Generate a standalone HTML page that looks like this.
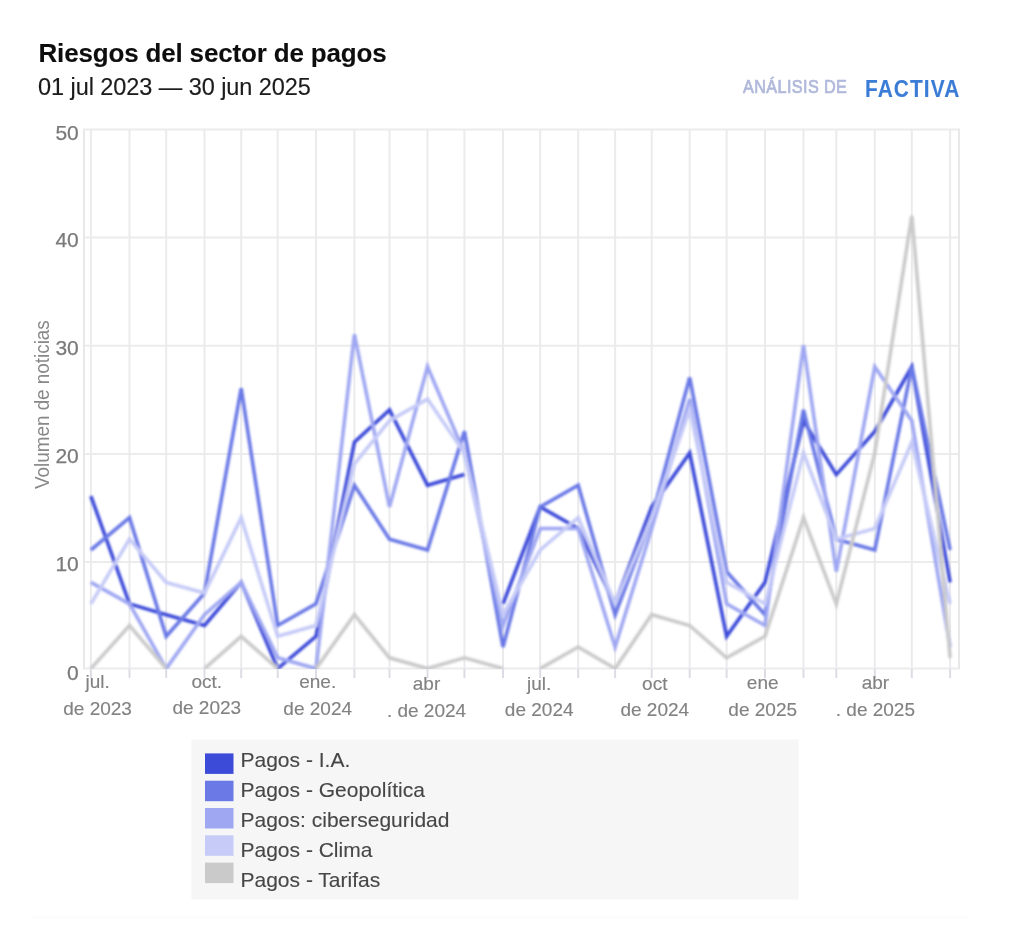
<!DOCTYPE html>
<html><head><meta charset="utf-8"><style>
html,body{margin:0;padding:0;background:#fff;width:1024px;height:925px;overflow:hidden}
#w{position:absolute;left:0;top:0;width:1024px;height:925px}
svg{position:absolute;left:0;top:0;font-family:"Liberation Sans", sans-serif}
</style></head><body><div id="w">
<svg width="1024" height="925" viewBox="0 0 1024 925">
<filter id="ga" filterUnits="userSpaceOnUse" x="0" y="0" width="1024" height="925"><feGaussianBlur stdDeviation="0.5"/></filter>
<rect width="1024" height="925" fill="#fff"/>
<g filter="url(#ga)">
<rect x="32" y="916" width="937" height="3" fill="#fdfdfd"/>
<text x="38.5" y="61.6" font-size="26" font-weight="bold" fill="#111" stroke="#111" stroke-width="0.1" letter-spacing="-0.17">Riesgos del sector de pagos</text>
<text x="38" y="95" font-size="23.5" fill="#1a1a1a" stroke="#1a1a1a" stroke-width="0.15" letter-spacing="-0.06">01 jul 2023 — 30 jun 2025</text>
<text transform="translate(743,93) scale(0.9,1)" font-size="18" fill="#b1b9db" stroke="#b1b9db" stroke-width="0.75" letter-spacing="0.45">ANÁLISIS DE</text>
<text transform="translate(865,96.8) scale(0.89,1)" font-size="23.5" font-weight="bold" fill="#3a7dd6" stroke="#3a7dd6" stroke-width="0.1" letter-spacing="1.2">FACTIVA</text>
<rect x="191.5" y="739.5" width="607" height="160" fill="#f6f6f6"/>
<rect x="205" y="753.4" width="28.5" height="20.5" fill="#3d4bd9"/>
<text x="240.5" y="766.9" font-size="21" fill="#474747" stroke="#474747" stroke-width="0.12">Pagos - I.A.</text>
<rect x="205" y="780.7" width="28.5" height="20.5" fill="#6b79e6"/>
<text x="240.5" y="796.9" font-size="21" fill="#474747" stroke="#474747" stroke-width="0.12">Pagos - Geopolítica</text>
<rect x="205" y="808.0" width="28.5" height="20.5" fill="#9fa7f2"/>
<text x="240.5" y="826.9" font-size="21" fill="#474747" stroke="#474747" stroke-width="0.12">Pagos: ciberseguridad</text>
<rect x="205" y="835.3" width="28.5" height="20.5" fill="#c6cbf7"/>
<text x="240.5" y="856.9" font-size="21" fill="#474747" stroke="#474747" stroke-width="0.12">Pagos - Clima</text>
<rect x="205" y="862.6" width="28.5" height="20.5" fill="#cacaca"/>
<text x="240.5" y="886.9" font-size="21" fill="#474747" stroke="#474747" stroke-width="0.12">Pagos - Tarifas</text>
<line x1="83" y1="668.5" x2="960" y2="668.5" stroke="#ececec" stroke-width="2"/>
<line x1="83" y1="562.1" x2="960" y2="562.1" stroke="#ececec" stroke-width="2"/>
<line x1="83" y1="454.0" x2="960" y2="454.0" stroke="#ececec" stroke-width="2"/>
<line x1="83" y1="345.8" x2="960" y2="345.8" stroke="#ececec" stroke-width="2"/>
<line x1="83" y1="237.6" x2="960" y2="237.6" stroke="#ececec" stroke-width="2"/>
<line x1="83" y1="129.6" x2="960" y2="129.6" stroke="#ececec" stroke-width="2"/>
<line x1="90.9" y1="129.6" x2="90.9" y2="669" stroke="#ebebee" stroke-width="2"/>
<line x1="90.9" y1="669" x2="90.9" y2="678" stroke="#dcdce6" stroke-width="2"/>
<line x1="129.5" y1="129.6" x2="129.5" y2="669" stroke="#ebebee" stroke-width="2"/>
<line x1="129.5" y1="669" x2="129.5" y2="678" stroke="#dcdce6" stroke-width="2"/>
<line x1="166.2" y1="129.6" x2="166.2" y2="669" stroke="#ebebee" stroke-width="2"/>
<line x1="166.2" y1="669" x2="166.2" y2="678" stroke="#dcdce6" stroke-width="2"/>
<line x1="204.5" y1="129.6" x2="204.5" y2="669" stroke="#ebebee" stroke-width="2"/>
<line x1="204.5" y1="669" x2="204.5" y2="678" stroke="#dcdce6" stroke-width="2"/>
<line x1="241.2" y1="129.6" x2="241.2" y2="669" stroke="#ebebee" stroke-width="2"/>
<line x1="241.2" y1="669" x2="241.2" y2="678" stroke="#dcdce6" stroke-width="2"/>
<line x1="277.7" y1="129.6" x2="277.7" y2="669" stroke="#ebebee" stroke-width="2"/>
<line x1="277.7" y1="669" x2="277.7" y2="678" stroke="#dcdce6" stroke-width="2"/>
<line x1="316.0" y1="129.6" x2="316.0" y2="669" stroke="#ebebee" stroke-width="2"/>
<line x1="316.0" y1="669" x2="316.0" y2="678" stroke="#dcdce6" stroke-width="2"/>
<line x1="354.4" y1="129.6" x2="354.4" y2="669" stroke="#ebebee" stroke-width="2"/>
<line x1="354.4" y1="669" x2="354.4" y2="678" stroke="#dcdce6" stroke-width="2"/>
<line x1="389.5" y1="129.6" x2="389.5" y2="669" stroke="#ebebee" stroke-width="2"/>
<line x1="389.5" y1="669" x2="389.5" y2="678" stroke="#dcdce6" stroke-width="2"/>
<line x1="427.5" y1="129.6" x2="427.5" y2="669" stroke="#ebebee" stroke-width="2"/>
<line x1="427.5" y1="669" x2="427.5" y2="678" stroke="#dcdce6" stroke-width="2"/>
<line x1="464.4" y1="129.6" x2="464.4" y2="669" stroke="#ebebee" stroke-width="2"/>
<line x1="464.4" y1="669" x2="464.4" y2="678" stroke="#dcdce6" stroke-width="2"/>
<line x1="503.0" y1="129.6" x2="503.0" y2="669" stroke="#ebebee" stroke-width="2"/>
<line x1="503.0" y1="669" x2="503.0" y2="678" stroke="#dcdce6" stroke-width="2"/>
<line x1="540.2" y1="129.6" x2="540.2" y2="669" stroke="#ebebee" stroke-width="2"/>
<line x1="540.2" y1="669" x2="540.2" y2="678" stroke="#dcdce6" stroke-width="2"/>
<line x1="578.2" y1="129.6" x2="578.2" y2="669" stroke="#ebebee" stroke-width="2"/>
<line x1="578.2" y1="669" x2="578.2" y2="678" stroke="#dcdce6" stroke-width="2"/>
<line x1="615.1" y1="129.6" x2="615.1" y2="669" stroke="#ebebee" stroke-width="2"/>
<line x1="615.1" y1="669" x2="615.1" y2="678" stroke="#dcdce6" stroke-width="2"/>
<line x1="651.7" y1="129.6" x2="651.7" y2="669" stroke="#ebebee" stroke-width="2"/>
<line x1="651.7" y1="669" x2="651.7" y2="678" stroke="#dcdce6" stroke-width="2"/>
<line x1="689.7" y1="129.6" x2="689.7" y2="669" stroke="#ebebee" stroke-width="2"/>
<line x1="689.7" y1="669" x2="689.7" y2="678" stroke="#dcdce6" stroke-width="2"/>
<line x1="726.6" y1="129.6" x2="726.6" y2="669" stroke="#ebebee" stroke-width="2"/>
<line x1="726.6" y1="669" x2="726.6" y2="678" stroke="#dcdce6" stroke-width="2"/>
<line x1="765.0" y1="129.6" x2="765.0" y2="669" stroke="#ebebee" stroke-width="2"/>
<line x1="765.0" y1="669" x2="765.0" y2="678" stroke="#dcdce6" stroke-width="2"/>
<line x1="803.5" y1="129.6" x2="803.5" y2="669" stroke="#ebebee" stroke-width="2"/>
<line x1="803.5" y1="669" x2="803.5" y2="678" stroke="#dcdce6" stroke-width="2"/>
<line x1="836.3" y1="129.6" x2="836.3" y2="669" stroke="#ebebee" stroke-width="2"/>
<line x1="836.3" y1="669" x2="836.3" y2="678" stroke="#dcdce6" stroke-width="2"/>
<line x1="874.8" y1="129.6" x2="874.8" y2="669" stroke="#ebebee" stroke-width="2"/>
<line x1="874.8" y1="669" x2="874.8" y2="678" stroke="#dcdce6" stroke-width="2"/>
<line x1="911.8" y1="129.6" x2="911.8" y2="669" stroke="#ebebee" stroke-width="2"/>
<line x1="911.8" y1="669" x2="911.8" y2="678" stroke="#dcdce6" stroke-width="2"/>
<line x1="950.1" y1="129.6" x2="950.1" y2="669" stroke="#ebebee" stroke-width="2"/>
<line x1="950.1" y1="669" x2="950.1" y2="678" stroke="#dcdce6" stroke-width="2"/>
<line x1="84" y1="129.6" x2="84" y2="668.6" stroke="#e8e8e8" stroke-width="2"/>
<line x1="959" y1="129.6" x2="959" y2="668.6" stroke="#e8e8e8" stroke-width="2"/>
<text x="78.8" y="680.1" text-anchor="end" font-size="21" fill="#7a7a7a" stroke="#7a7a7a" stroke-width="0.25">0</text>
<text x="78.8" y="570.8" text-anchor="end" font-size="21" fill="#7a7a7a" stroke="#7a7a7a" stroke-width="0.25">10</text>
<text x="78.8" y="463.0" text-anchor="end" font-size="21" fill="#7a7a7a" stroke="#7a7a7a" stroke-width="0.25">20</text>
<text x="78.8" y="355.2" text-anchor="end" font-size="21" fill="#7a7a7a" stroke="#7a7a7a" stroke-width="0.25">30</text>
<text x="78.8" y="247.4" text-anchor="end" font-size="21" fill="#7a7a7a" stroke="#7a7a7a" stroke-width="0.25">40</text>
<text x="78.8" y="139.6" text-anchor="end" font-size="21" fill="#7a7a7a" stroke="#7a7a7a" stroke-width="0.25">50</text>
<text transform="translate(48.8,404.6) rotate(-90) scale(0.915,1)" text-anchor="middle" font-size="20.6" fill="#888">Volumen de noticias</text>
<text x="97.6" y="688" text-anchor="middle" font-size="19" fill="#828282" stroke="#828282" stroke-width="0.15">jul.</text>
<text x="97.6" y="714.6" text-anchor="middle" font-size="19" fill="#828282" stroke="#828282" stroke-width="0.15">de 2023</text>
<text x="206.8" y="687.8" text-anchor="middle" font-size="19" fill="#828282" stroke="#828282" stroke-width="0.15">oct.</text>
<text x="206.8" y="714.2" text-anchor="middle" font-size="19" fill="#828282" stroke="#828282" stroke-width="0.15">de 2023</text>
<text x="317.7" y="688" text-anchor="middle" font-size="19" fill="#828282" stroke="#828282" stroke-width="0.15">ene.</text>
<text x="317.7" y="714.6" text-anchor="middle" font-size="19" fill="#828282" stroke="#828282" stroke-width="0.15">de 2024</text>
<text x="426.5" y="690" text-anchor="middle" font-size="19" fill="#828282" stroke="#828282" stroke-width="0.15">abr</text>
<text x="426.5" y="717" text-anchor="middle" font-size="19" fill="#828282" stroke="#828282" stroke-width="0.15">. de 2024</text>
<text x="539.2" y="689.5" text-anchor="middle" font-size="19" fill="#828282" stroke="#828282" stroke-width="0.15">jul.</text>
<text x="539.2" y="716" text-anchor="middle" font-size="19" fill="#828282" stroke="#828282" stroke-width="0.15">de 2024</text>
<text x="654.8" y="689.5" text-anchor="middle" font-size="19" fill="#828282" stroke="#828282" stroke-width="0.15">oct</text>
<text x="654.8" y="716" text-anchor="middle" font-size="19" fill="#828282" stroke="#828282" stroke-width="0.15">de 2024</text>
<text x="762.7" y="689.2" text-anchor="middle" font-size="19" fill="#828282" stroke="#828282" stroke-width="0.15">ene</text>
<text x="762.7" y="715.5" text-anchor="middle" font-size="19" fill="#828282" stroke="#828282" stroke-width="0.15">de 2025</text>
<text x="875.4" y="689.2" text-anchor="middle" font-size="19" fill="#828282" stroke="#828282" stroke-width="0.15">abr</text>
<text x="875.4" y="716" text-anchor="middle" font-size="19" fill="#828282" stroke="#828282" stroke-width="0.15">. de 2025</text>
<clipPath id="ca"><rect x="84" y="120" width="876" height="549.10"/></clipPath><filter id="bl" x="-2%" y="-2%" width="104%" height="104%"><feGaussianBlur stdDeviation="0.8"/></filter><g clip-path="url(#ca)"><g filter="url(#bl)">
<polyline points="90.9,496.1 129.5,603.9 166.2,614.7 204.5,625.5 241.2,582.4 277.7,668.6 316.0,636.3 354.4,442.2 389.5,409.9 427.5,485.3 464.4,474.6" fill="none" stroke="#3d4bd9" stroke-width="3.6" stroke-linejoin="miter" stroke-linecap="butt"/>
<polyline points="503.0,603.9 540.2,506.9 578.2,528.5 615.1,603.9 651.7,506.9 689.7,453.0 726.6,636.3 765.0,582.4 803.5,420.7 836.3,474.6 874.8,431.4 911.8,366.8 950.1,582.4" fill="none" stroke="#3d4bd9" stroke-width="3.6" stroke-linejoin="miter" stroke-linecap="butt"/>
<polyline points="90.9,550.0 129.5,517.7 166.2,636.3 204.5,593.1 241.2,388.3 277.7,625.5 316.0,603.9 354.4,485.3 389.5,539.2 427.5,550.0 464.4,431.4 503.0,647.0 540.2,506.9 578.2,485.3 615.1,614.7 651.7,517.7 689.7,377.5 726.6,571.6 765.0,614.7 803.5,409.9 836.3,539.2 874.8,550.0 911.8,366.8 950.1,550.0" fill="none" stroke="#6b79e6" stroke-width="3.6" stroke-linejoin="miter" stroke-linecap="butt"/>
<polyline points="90.9,582.4 129.5,603.9 166.2,668.6 204.5,614.7 241.2,582.4 277.7,657.8 316.0,668.6 354.4,334.4 389.5,506.9 427.5,366.8 464.4,453.0 503.0,625.5 540.2,528.5 578.2,528.5 615.1,647.0 651.7,528.5 689.7,399.1 726.6,603.9 765.0,625.5 803.5,345.2 836.3,571.6 874.8,366.8 911.8,420.7 950.1,647.0" fill="none" stroke="#9fa7f2" stroke-width="3.6" stroke-linejoin="miter" stroke-linecap="butt"/>
<polyline points="90.9,603.9 129.5,539.2 166.2,582.4 204.5,593.1 241.2,517.7 277.7,636.3 316.0,625.5 354.4,463.8 389.5,420.7 427.5,399.1 464.4,453.0 503.0,614.7 540.2,550.0 578.2,517.7 615.1,603.9 651.7,517.7 689.7,409.9 726.6,582.4 765.0,603.9 803.5,453.0 836.3,539.2 874.8,528.5 911.8,442.2 950.1,603.9" fill="none" stroke="#c6cbf7" stroke-width="3.6" stroke-linejoin="miter" stroke-linecap="butt"/>
<polyline points="90.9,668.6 129.5,625.5 166.2,668.6" fill="none" stroke="#cacaca" stroke-width="3.6" stroke-linejoin="miter" stroke-linecap="butt"/>
<polyline points="204.5,668.6 241.2,636.3 277.7,668.6" fill="none" stroke="#cacaca" stroke-width="3.6" stroke-linejoin="miter" stroke-linecap="butt"/>
<polyline points="316.0,668.6 354.4,614.7 389.5,657.8 427.5,668.6 464.4,657.8 503.0,668.6" fill="none" stroke="#cacaca" stroke-width="3.6" stroke-linejoin="miter" stroke-linecap="butt"/>
<polyline points="540.2,668.6 578.2,647.0 615.1,668.6 651.7,614.7 689.7,625.5 726.6,657.8 765.0,636.3 803.5,517.7 836.3,603.9 874.8,453.0 911.8,215.8 950.1,657.8" fill="none" stroke="#cacaca" stroke-width="3.6" stroke-linejoin="miter" stroke-linecap="butt"/>
</g></g>
</g>
</svg></div>
</body></html>
